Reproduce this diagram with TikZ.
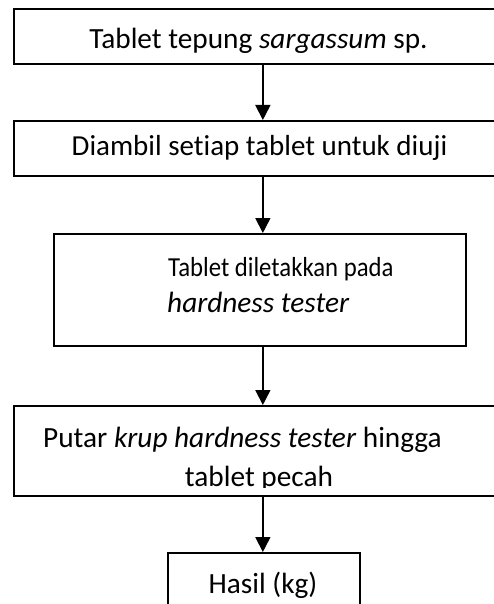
\documentclass[tikz,border=0pt]{standalone}
\usepackage{fontspec}
\setmainfont{Carlito}[Ligatures=NoCommon]
\usetikzlibrary{arrows.meta}
\begin{document}
\begin{tikzpicture}[x=1pt,y=-1pt,
  box/.style={draw,line width=1.7pt,inner sep=0pt,anchor=north west},
  txt/.style={font=\fontsize{#1}{37}\selectfont,inner sep=0pt,anchor=base},
  txt/.default=29.3,
  arr/.style={line width=1.7pt,-{Triangle[width=15pt,length=15pt]}}]
\clip (0,0) rectangle (494,604);
% boxes
\node[box,minimum width=498pt,minimum height=55pt] (b1) at (13,8) {};
\node[box,minimum width=498pt,minimum height=55pt] (b2) at (13,120) {};
\node[box,minimum width=412pt,minimum height=112pt] (b3) at (53,233) {};
\node[box,minimum width=498pt,minimum height=90pt] (b4) at (13,405) {};
\node[box,minimum width=192pt,minimum height=80pt] (b5) at (167,552) {};
% texts
\node[txt] (t1) at (258.5,49) {Tablet tepung \textit{sargassum} sp.};
\node[txt=29] (t2) at (259.5,156) {Diambil setiap tablet untuk diuji};
\node[txt=27.5,anchor=base west] (t3) at (168,276) {\scalebox{0.9}[1]{Tablet diletakkan pada}};
\node[txt,anchor=base west] (t3b) at (167,312) {\textit{hardness tester}};
\begin{scope}
\clip (13,405) rectangle (494,487);
\node[txt,anchor=base west] (t4) at (43,447) {Putar \textit{krup hardness tester} hingga};
\node[txt] (t4b) at (259,486) {tablet pecah};
\end{scope}
\node[txt] (t5) at (263,593) {Hasil (kg)};
% arrows
\draw[arr] (b1.south) -- (b2.north);
\draw[arr] (b2.south) -- (b2.south |- b3.north);
\draw[arr] (b3.south -| b2.south) -- (b4.north);
\draw[arr] (b4.south) -- (b4.south |- b5.north);
\end{tikzpicture}
\end{document}
